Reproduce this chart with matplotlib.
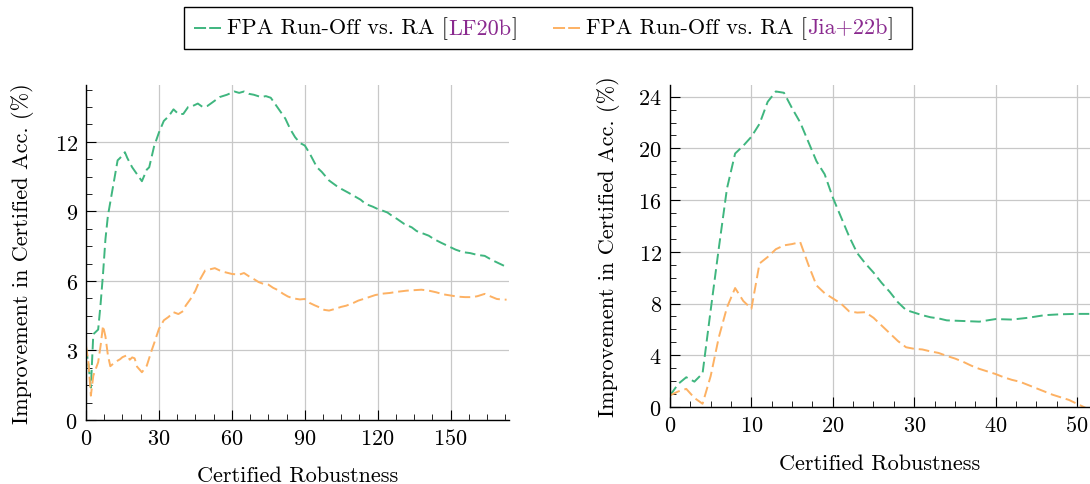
import numpy as np
import matplotlib
matplotlib.use("Agg")
import matplotlib.pyplot as plt
from matplotlib.ticker import MultipleLocator
from matplotlib.lines import Line2D
from matplotlib.offsetbox import AnchoredOffsetbox, HPacker, TextArea, DrawingArea

plt.rcParams['font.family'] = ['cmr10', 'DejaVu Serif']
plt.rcParams['mathtext.fontset'] = 'cm'
plt.rcParams['axes.unicode_minus'] = False
plt.rcParams['axes.formatter.use_mathtext'] = True

# colours
green = '#3fb67f'
orange = '#fdb163'
purple = '#8a2a8f'
gridcol = '#c8c8c8'
fs = 16

# ---------------- data: left panel ----------------
left_green_x = [0, 1, 2, 3, 5, 6, 7, 8, 9, 10, 12, 13, 14, 16, 17, 19, 21, 23, 25, 26, 28, 30, 32, 34,
                36, 38, 40, 42, 44, 46, 48, 50, 52, 55, 58, 61, 63, 65, 67, 69, 72, 74, 76, 78, 80,
                82, 84, 86, 88, 90, 92, 95, 97, 100, 103, 105, 108, 110, 113, 115, 118, 120, 122,
                124, 126, 128, 131, 134, 136, 139, 141, 143, 146, 150, 152, 155, 158, 161, 164,
                167, 170, 173]
left_green_y = [3.1, 2.4, 1.4, 3.7, 3.9, 5.0, 6.3, 7.8, 8.8, 9.4, 10.6, 11.2, 11.3, 11.55, 11.3, 10.9,
                10.6, 10.3, 10.8, 10.9, 11.8, 12.4, 12.9, 13.1, 13.4, 13.2, 13.2, 13.5, 13.55, 13.65,
                13.5, 13.55, 13.7, 13.93, 14.03, 14.17, 14.11, 14.17, 14.07, 14.03, 13.93, 13.97,
                13.9, 13.6, 13.3, 13.0, 12.55, 12.2, 11.95, 11.84, 11.5, 10.9, 10.7, 10.33, 10.1,
                9.97, 9.8, 9.68, 9.5, 9.32, 9.2, 9.1, 9.03, 8.95, 8.8, 8.67, 8.45, 8.31, 8.15, 8.03,
                7.95, 7.81, 7.65, 7.45, 7.35, 7.24, 7.2, 7.12, 7.08, 6.9, 6.75, 6.6]

left_orange_x = [0, 1, 2, 3, 4, 5, 6, 7, 8, 9, 10, 12, 14, 15, 17, 18, 19, 20, 21, 23, 25, 27, 28, 30,
                 32, 34, 36, 38, 40, 41, 43, 45, 47, 49, 51, 53, 55, 57, 60, 63, 65, 67, 69, 71, 73,
                 75, 77, 79, 81, 83, 85, 88, 90, 92, 94, 96, 98, 100, 102, 105, 107, 110, 112, 115,
                 117, 119, 122, 125, 128, 132, 135, 138, 141, 144, 147, 150, 153, 156, 159, 161,
                 164, 166, 169, 171, 173]
left_orange_y = [3.2, 2.49, 1.05, 1.91, 2.2, 2.49, 3.2, 4.07, 3.6, 2.8, 2.32, 2.5, 2.62, 2.71, 2.8,
                 2.6, 2.7, 2.66, 2.3, 2.06, 2.34, 3.0, 3.3, 3.93, 4.3, 4.45, 4.65, 4.57, 4.7, 4.93,
                 5.22, 5.58, 6.08, 6.45, 6.5, 6.55, 6.45, 6.38, 6.3, 6.27, 6.34, 6.2, 6.08, 5.95,
                 5.87, 5.84, 5.7, 5.6, 5.45, 5.33, 5.25, 5.2, 5.22, 5.05, 4.95, 4.86, 4.75, 4.72,
                 4.78, 4.88, 4.93, 5.05, 5.15, 5.25, 5.32, 5.39, 5.45, 5.48, 5.53, 5.58, 5.6, 5.62,
                 5.58, 5.51, 5.42, 5.37, 5.32, 5.3, 5.3, 5.34, 5.44, 5.35, 5.22, 5.2, 5.19]

# ---------------- data: right panel ----------------
right_green_x = [0, 1, 2, 3, 4, 5, 6, 7, 8, 9, 10, 11, 12, 13, 14, 15, 16, 17, 18, 19, 20, 21, 22,
                 23, 24, 25, 26, 27, 28, 29, 30, 31, 32, 33, 34, 36, 38, 40, 42, 44, 46, 48, 50, 52]
right_green_y = [0.88, 1.78, 2.3, 1.96, 2.6, 7.5, 12.3, 16.9, 19.6, 20.2, 20.9, 21.9, 23.6, 24.4,
                 24.3, 23.1, 22.0, 20.5, 19.0, 18.0, 16.2, 14.7, 13.2, 11.9, 11.1, 10.4, 9.6, 8.9,
                 8.1, 7.5, 7.3, 7.1, 6.94, 6.85, 6.7, 6.65, 6.6, 6.8, 6.76, 6.9, 7.1, 7.17, 7.2, 7.2]

right_orange_x = list(range(0, 53))
right_orange_y = [0.9, 1.2, 1.4, 0.7, 0.25, 2.4, 5.4, 7.7, 9.2, 8.2, 7.6, 11.1, 11.6, 12.2, 12.5,
                  12.6, 12.75, 11.0, 9.4, 8.8, 8.4, 8.0, 7.4, 7.3, 7.33, 6.9, 6.3, 5.7, 5.1, 4.62,
                  4.5, 4.45, 4.3, 4.18, 3.95, 3.75, 3.5, 3.2, 2.95, 2.75, 2.55, 2.3, 2.1, 1.95, 1.7,
                  1.45, 1.2, 0.95, 0.75, 0.55, 0.25, -0.05, -0.3]

xlabel = 'Certified Robustness'
ylabel = 'Improvement in Certified Acc. (%)'
dash = (0, (5.5, 2.5))

fig = plt.figure(figsize=(10.9, 4.85), dpi=100)


def style(ax, xmaj, xmin, ymaj, ymin):
    ax.spines['top'].set_visible(False)
    ax.spines['right'].set_visible(False)
    ax.spines['left'].set_linewidth(1.0)
    ax.spines['bottom'].set_linewidth(1.0)
    ax.xaxis.set_major_locator(MultipleLocator(xmaj))
    ax.xaxis.set_minor_locator(MultipleLocator(xmin))
    ax.yaxis.set_major_locator(MultipleLocator(ymaj))
    ax.yaxis.set_minor_locator(MultipleLocator(ymin))
    ax.tick_params(which='major', direction='in', length=7, width=0.8, labelsize=fs, pad=6)
    ax.tick_params(which='minor', direction='in', length=4.5, width=0.6)
    ax.grid(True, which='major', color=gridcol, lw=0.9)
    ax.set_axisbelow(True)
    ax.set_xlabel(xlabel, fontsize=fs, labelpad=12)
    ax.set_ylabel(ylabel, fontsize=fs, labelpad=15)


ax1 = fig.add_axes([86/1090, 64/485, 423/1090, 335/485])
ax1.plot(left_green_x, left_green_y, color=green, lw=1.4, ls=dash)
ax1.plot(left_orange_x, left_orange_y, color=orange, lw=1.4, ls=dash)
ax1.set_xlim(0, 174)
ax1.set_ylim(0, 14.45)
style(ax1, 30, 7.5, 3, 0.75)

ax2 = fig.add_axes([670/1090, 77/485, 420/1090, 322/485])
ax2.plot(right_green_x, right_green_y, color=green, lw=1.4, ls=dash)
ax2.plot(right_orange_x, right_orange_y, color=orange, lw=1.4, ls=dash)
ax2.set_xlim(0, 51.6)
ax2.set_ylim(0, 24.9)
style(ax2, 10, 2.5, 4, 1)
ax2.xaxis.labelpad = 13
ax2.yaxis.labelpad = 13

# legend with coloured citation keys
tp = dict(fontsize=fs, color='black')


def handle(col):
    da = DrawingArea(19.5, 10, 0, 0)
    da.add_artist(Line2D([0, 19.5], [4, 4], color=col, lw=1.4, ls=(0, (6.2, 1.6))))
    return da


def spacer(w):
    return DrawingArea(w, 1, 0, 0)


items = [handle(green), spacer(4.3),
         TextArea('FPA Run-Off vs. RA [', textprops=tp),
         TextArea('LF20b', textprops=dict(fontsize=fs, color=purple)),
         TextArea(']', textprops=tp), spacer(26),
         handle(orange), spacer(4.3),
         TextArea('FPA Run-Off vs. RA [', textprops=tp),
         TextArea('Jia+22b', textprops=dict(fontsize=fs, color=purple)),
         TextArea(']', textprops=tp), spacer(5.8)]
box = HPacker(children=items, align='baseline', pad=0, sep=0)
leg = AnchoredOffsetbox(loc='center', child=box, pad=0.72, borderpad=0, frameon=True,
                        bbox_to_anchor=(0.5028, 0.94), bbox_transform=fig.transFigure)
leg.patch.set_edgecolor('black')
leg.patch.set_linewidth(1.0)
fig.add_artist(leg)

fig.savefig('out.png', dpi=100)
